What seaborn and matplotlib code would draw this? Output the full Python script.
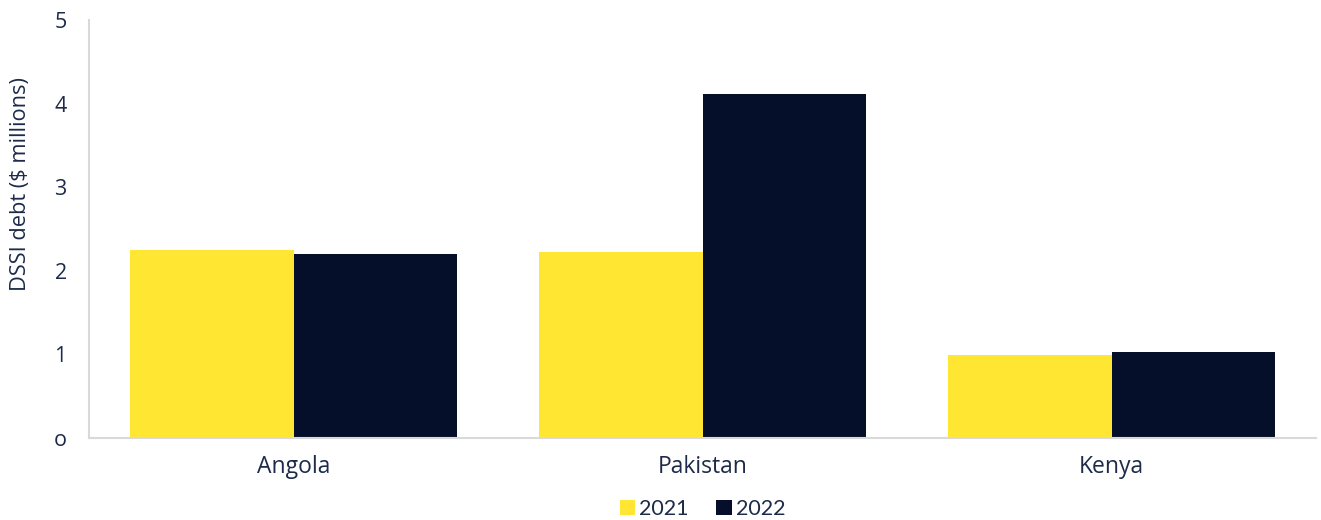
import numpy as np
import pandas as pd
import matplotlib
matplotlib.use('Agg')
import matplotlib.pyplot as plt
import seaborn as sns

# 数据
countries = ['Angola', 'Pakistan', 'Kenya']
years = ['2021', '2022']
debt_2021 = [2.25, 2.22, 0.99]
debt_2022 = [2.20, 4.11, 1.03]

df = pd.DataFrame({
    'country': countries * 2,
    'year': [years[0]] * 3 + [years[1]] * 3,
    'debt': debt_2021 + debt_2022,
})

sns.set_style('white')
plt.rcParams['font.family'] = ['Open Sans', 'DejaVu Sans']
text_color = '#1d2b4a'

fig = plt.figure(figsize=(13.21, 5.2), dpi=100)
ax = fig.add_axes([89 / 1321, 1 - 438 / 520, (1316 - 89) / 1321, (438 - 20) / 520])

sns.barplot(data=df, x='country', y='debt', hue='year', order=countries,
            hue_order=years, palette=['#ffe632', '#060f2a'], width=0.8,
            saturation=1, linewidth=0, ax=ax)

ax.set_xlim(-0.5, 2.5)
ax.set_ylim(0, 5)
ax.set_yticks([0, 1, 2, 3, 4, 5])
ax.set_yticklabels(['o', '1', '2', '3', '4', '5'])
ax.tick_params(axis='x', length=0, labelsize=16.5, colors=text_color, pad=12)
ax.tick_params(axis='y', length=0, labelsize=15.5, colors=text_color, pad=16)
ax.set_xlabel('')
ax.set_ylabel('DSSI debt ($ millions)', fontsize=15.7, color=text_color)
ax.yaxis.set_label_coords(-0.047, 0.607)

for side in ['top', 'right']:
    ax.spines[side].set_visible(False)
for side in ['left', 'bottom']:
    ax.spines[side].set_color('#d9d9d9')
    ax.spines[side].set_linewidth(1.5)

ax.legend(loc='center', bbox_to_anchor=(0.5, -0.17), ncol=2, frameon=False,
          handlelength=0.7, handleheight=0.7, handletextpad=0.2, columnspacing=1.3,
          prop={'family': 'Lato', 'size': 15.5}, labelcolor=text_color)

fig.savefig('out.png', dpi=100)
